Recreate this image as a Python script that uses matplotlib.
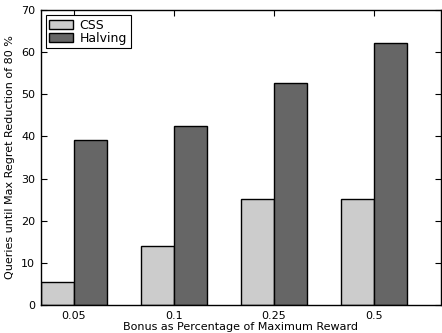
import numpy as np
import matplotlib
matplotlib.use("Agg")
import matplotlib.pyplot as plt

# Данные
bonus_labels = ["0.05", "0.1", "0.25", "0.5"]
css_queries = [5.4, 13.9, 25.2, 25.2]
halving_queries = [39.1, 42.5, 52.6, 62.1]

plt.rcParams['font.family'] = ['DejaVu Sans']
plt.rcParams['font.size'] = 8

fig = plt.figure(figsize=(4.42, 3.33), dpi=100)
ax = fig.add_axes([0.092, 0.084, 0.905, 0.886])

x = np.arange(len(bonus_labels))
width = 1.0 / 3
ax.bar(x - width / 2, css_queries, width, color="#cccccc", edgecolor="black",
       linewidth=1.0, label="CSS")
ax.bar(x + width / 2, halving_queries, width, color="#666666", edgecolor="black",
       linewidth=1.0, label="Halving")

ax.set_xlim(-1.0 / 3, 3 + 2.0 / 3)
ax.set_ylim(0, 70)
ax.set_xticks(x)
ax.set_xticklabels(bonus_labels)
ax.set_yticks(range(0, 71, 10))
ax.tick_params(direction="in", top=True, right=True, length=4, width=0.8, pad=4)
for s in ax.spines.values():
    s.set_linewidth(1.0)

ax.set_xlabel("Bonus as Percentage of Maximum Reward", labelpad=1)
ax.set_ylabel("Queries until Max Regret Reduction of 80 %", labelpad=4)

leg = ax.legend(loc="upper left", fancybox=False, framealpha=1, edgecolor="black",
                fontsize=9, borderaxespad=0.4, handlelength=1.9, handleheight=0.7,
                handletextpad=0.5, borderpad=0.3, labelspacing=0.0)
leg.get_frame().set_linewidth(0.8)

fig.savefig("out.png", dpi=100)
